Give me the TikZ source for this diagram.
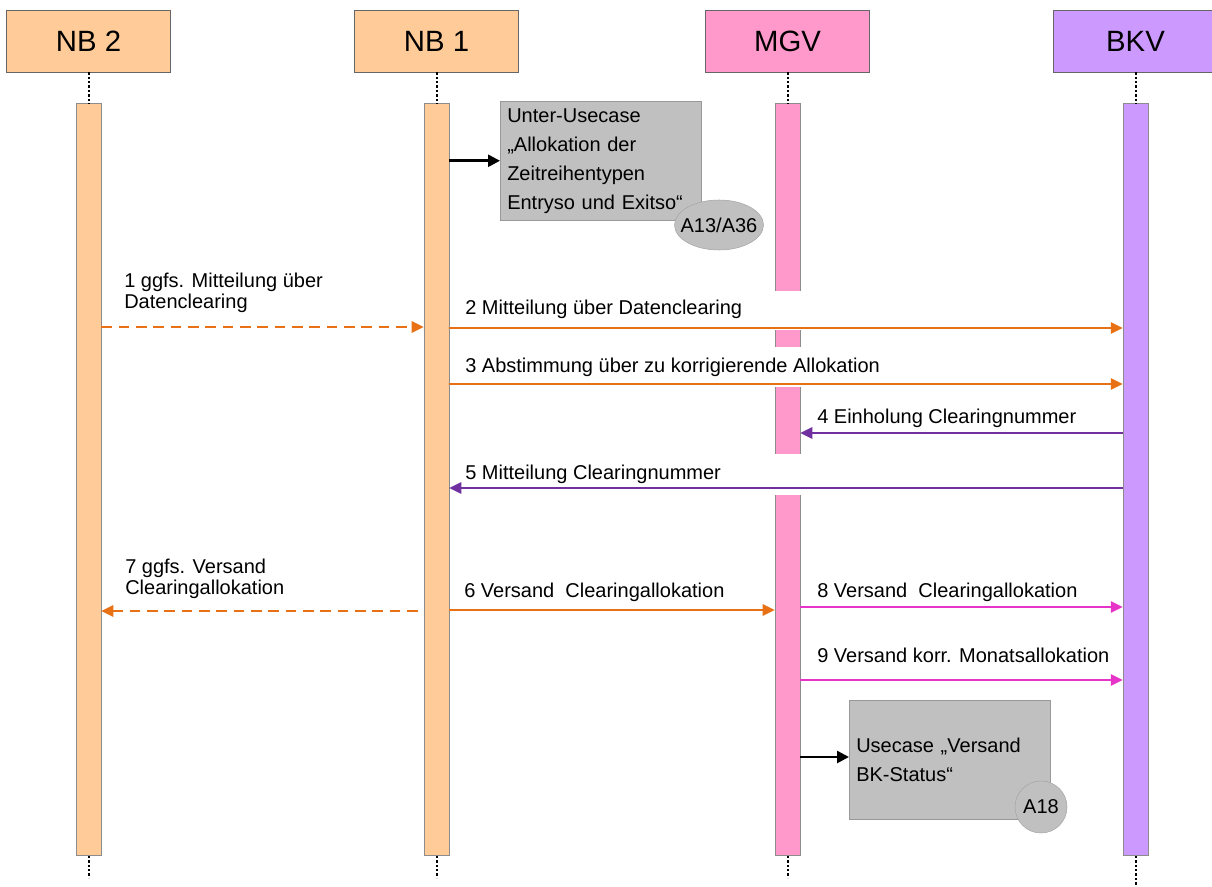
\documentclass[tikz,border=0pt]{standalone}
\usepackage{fontspec}
\setmainfont{Liberation Sans}
\usetikzlibrary{arrows.meta,positioning,shapes.geometric}
\definecolor{peach}{HTML}{FFCC99}
\definecolor{pinkc}{HTML}{FF99CC}
\definecolor{lilac}{HTML}{CC99FF}
\definecolor{ucgray}{HTML}{C0C0C0}
\definecolor{orangec}{HTML}{E87116}
\definecolor{purplec}{HTML}{7030A0}
\definecolor{magentac}{HTML}{E633C8}

\begin{document}
\begin{tikzpicture}[
  x=0.75pt, y=-0.75pt,
  node distance=23.25pt,
  hdr/.style={draw=black!60, minimum width=123pt, minimum height=46.5pt,
              font=\fontsize{22}{26}\selectfont},
  bar/.style={draw=black!45, minimum width=18.75pt, minimum height=564pt, inner sep=0pt},
  life/.style={dash pattern=on 1.8pt off 1.5pt, line width=1.5pt, black},
  msg/.style={font=\fontsize{15}{15.75}\selectfont, inner sep=0pt, align=left},
  ucbox/.style={fill=ucgray, draw=black!40, align=left, text width=140pt,
                inner xsep=5.25pt, minimum height=89.25pt, anchor=north west,
                font=\fontsize{15}{21.75}\selectfont},
  tag/.style={ellipse, fill=ucgray, draw=black!35, inner xsep=-6pt, inner ysep=0pt,
              font=\fontsize{15}{18}\selectfont},
  arr/.style={-{Triangle[length=9pt,width=8.5pt]}, line width=1.5pt},
  dsh/.style={dash pattern=on 8pt off 5pt},
  barr/.style={-{Triangle[length=9pt,width=9pt]}, line width=1.9pt, black}
]
\path[use as bounding box] (0,0) rectangle (1212,887);
\clip (0,0) rectangle (1212,887);

\node[hdr, fill=peach] (nb2) at (88.5,41)   {NB 2};
\node[hdr, fill=peach] (nb1) at (436.5,41)  {NB 1};
\node[hdr, fill=pinkc] (mgv) at (787.5,41)  {MGV};
\node[hdr, fill=lilac] (bkv) at (1135.5,41) {BKV};

\node[bar, fill=peach, below=of nb2] (nb2bar) {};
\node[bar, fill=peach, below=of nb1] (nb1bar) {};
\node[bar, fill=pinkc, below=of mgv] (mgvbar) {};
\node[bar, fill=lilac, below=of bkv] (bkvbar) {};

\draw[life] (nb2) -- (nb2bar);
\draw[life] (nb1) -- (nb1bar);
\draw[life] (mgv) -- (mgvbar);
\draw[life] (bkv) -- (bkvbar);
\draw[life] (nb2bar.south) -- ++(0,22);
\draw[life] (nb1bar.south) -- ++(0,22);
\draw[life] (mgvbar.south) -- ++(0,22);
\draw[life] (bkvbar.south) -- ++(0,32);

\fill[white] (770,291) rectangle (806,330);
\fill[white] (770,347) rectangle (806,387);
\fill[white] (770,454) rectangle (806,495);

\node[ucbox] (uc1) at (500,101) {Unter-Usecase\\„Allokation der\\Zeitreihentypen\\Entryso und Exitso“};
\node[tag, minimum width=66.75pt, minimum height=37.5pt] (tag1) at (719,225) {A13/A36};
\node[ucbox] (uc2) at (849,700) {Usecase „Versand\\BK-Status“};
\node[tag, circle, inner sep=0pt, minimum size=39pt] (tag2) at (1041,807) {A18};

\node[msg, anchor=north west] (m1) at (124,272.5) {1 ggfs. Mitteilung über\\Datenclearing};
\node[msg, anchor=base west] (m2) at (465,315) {2 Mitteilung über Datenclearing};
\node[msg, anchor=base west] (m3) at (465,373) {3 Abstimmung über zu korrigierende Allokation};
\node[msg, anchor=base west] (m4) at (817,423) {4 Einholung Clearingnummer};
\node[msg, anchor=base west] (m5) at (465,479) {5 Mitteilung Clearingnummer};
\node[msg, anchor=base west] (m6) at (464,597) {6 Versand~ Clearingallokation};
\node[msg, anchor=north west] (m7) at (125,558.5) {7 ggfs. Versand\\Clearingallokation};
\node[msg, anchor=base west] (m8) at (817,597) {8 Versand~ Clearingallokation};
\node[msg, anchor=base west] (m9) at (817,662) {9 Versand korr. Monatsallokation};

\draw[barr] (nb1bar.east |- uc1.west) -- (uc1.west);
\draw[barr] (mgvbar.east |- 0,757) -- (uc2.west |- 0,757);
\draw[arr, dsh, orangec] (nb2bar.east |- 0,327) -- (nb1bar.west |- 0,327);
\draw[arr, orangec] (nb1bar.east |- 0,328) -- (bkvbar.west |- 0,328);
\draw[arr, orangec] (nb1bar.east |- 0,384) -- (bkvbar.west |- 0,384);
\draw[arr, purplec] (bkvbar.west |- 0,433) -- (mgvbar.east |- 0,433);
\draw[arr, purplec] (bkvbar.west |- 0,488) -- (nb1bar.east |- 0,488);
\draw[arr, orangec] (nb1bar.east |- 0,610) -- (mgvbar.west |- 0,610);
\draw[arr, dsh, orangec, shorten <=4.5pt] (nb1bar.west |- 0,611) -- (nb2bar.east |- 0,611);
\draw[arr, magentac] (mgvbar.east |- 0,607) -- (bkvbar.west |- 0,607);
\draw[arr, magentac] (mgvbar.east |- 0,680) -- (bkvbar.west |- 0,680);
\end{tikzpicture}
\end{document}
